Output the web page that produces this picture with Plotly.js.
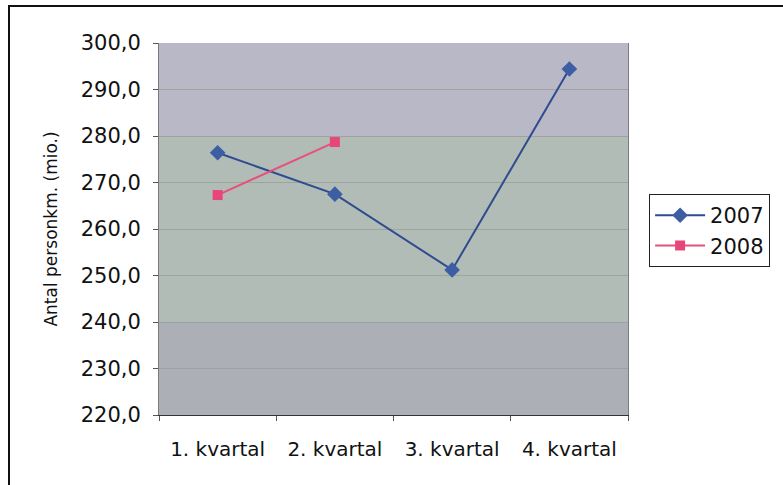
<!DOCTYPE html>
<html>
<head>
<meta charset="utf-8">
<script src="https://cdn.plot.ly/plotly-3.0.1.min.js"></script>
<style>
  body { margin: 0; background: #fff; }
  #chart { width: 783px; height: 485px; }
  #frame { position: absolute; left: 8px; top: 5px; width: 800px; height: 500px;
           border-left: 2px solid #111; border-top: 2px solid #111; pointer-events: none; }
</style>
</head>
<body>
<div id="chart"></div>
<div id="frame"></div>
<script>
// quarters and passenger-km (mio.) per year
let quarters = ["1. kvartal", "2. kvartal", "3. kvartal", "4. kvartal"];
let values2007 = [276.4, 267.5, 251.2, 294.4];
let values2008 = [267.3, 278.7];

let trace2007 = {
    x: quarters,
    y: values2007,
    name: "2007",
    mode: "lines+markers",
    type: "scatter",
    line: {color: "#2f4c8f", width: 2},
    marker: {symbol: "diamond", size: 12, color: "#3d5ea3"}
};

let trace2008 = {
    x: quarters.slice(0, values2008.length),
    y: values2008,
    name: "2008",
    mode: "lines+markers",
    type: "scatter",
    line: {color: "#e8507c", width: 2},
    marker: {symbol: "square", size: 10, color: "#e8457a"}
};

// plot-area shading (Excel style gradient, approximated by bands)
let bands = [
    {y0: 0.0, y1: 0.25, color: "#adafb6"},
    {y0: 0.25, y1: 0.75, color: "#b1bcb6"},
    {y0: 0.75, y1: 1.0, color: "#b8b8c7"}
];
let shapes = bands.map(b => ({
    type: "rect", xref: "x domain", yref: "y domain",
    x0: 0, x1: 1, y0: b.y0, y1: b.y1,
    fillcolor: b.color, line: {width: 0}, layer: "below"
}));

let layout = {
    width: 783,
    height: 485,
    margin: {l: 159, r: 155, t: 43, b: 70},
    paper_bgcolor: "#ffffff",
    plot_bgcolor: "#b1bcb6",
    separators: ", ",
    font: {family: "DejaVu Sans", color: "#111"},
    showlegend: true,
    legend: {
        x: 1.045, y: 0.594, xanchor: "left", yanchor: "top",
        bordercolor: "#222", borderwidth: 1,
        font: {size: 21, color: "#111"},
        itemwidth: 50,
        tracegroupgap: 0
    },
    xaxis: {
        type: "category",
        tickson: "boundaries",
        ticks: "outside", ticklen: 5, tickcolor: "#555",
        ticklabelstandoff: 16,
        showgrid: false,
        showline: true, linecolor: "#333", linewidth: 1,
        tickfont: {size: 20},
        range: [-0.5, 3.5]
    },
    yaxis: {
        title: {text: "Antal personkm. (mio.)", font: {size: 17}, standoff: 18},
        range: [220, 300],
        dtick: 10,
        tickformat: ".1f",
        ticks: "outside", ticklen: 5, tickcolor: "#555",
        ticklabelstandoff: 8,
        gridcolor: "#9ea39f", gridwidth: 1,
        showline: true, linecolor: "#7a7a7a", mirror: true,
        zeroline: false,
        tickfont: {size: 21}
    },
    shapes: shapes
};

Plotly.newPlot("chart", [trace2007, trace2008], layout, {displayModeBar: false});
</script>
</body>
</html>
